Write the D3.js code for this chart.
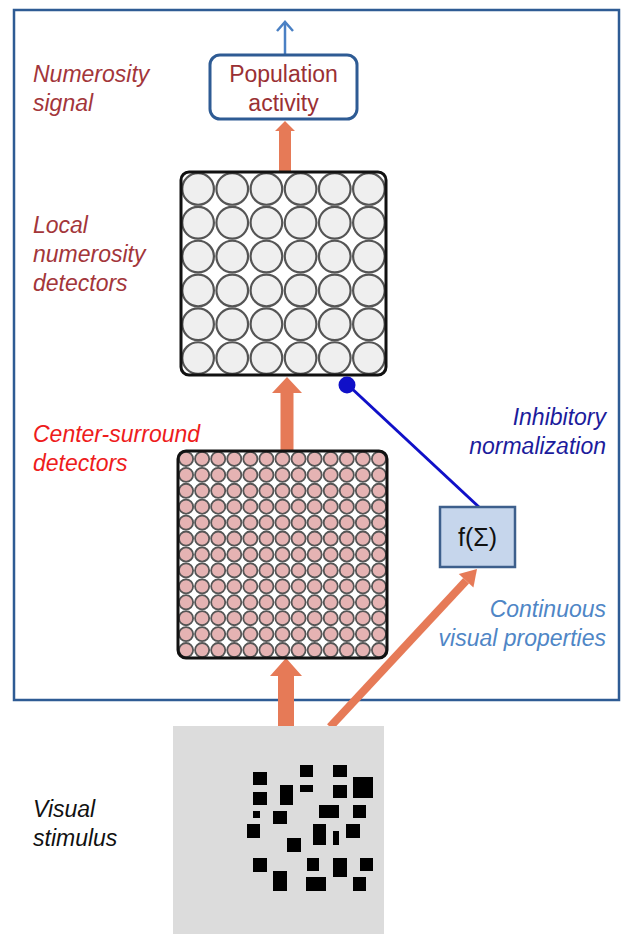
<html>
<style>
  body { margin: 0; background: #fff; }
  svg { display: block; }
  text { font-family: "Liberation Sans", Arial, sans-serif; }
  .lbl { font-style: italic; font-size: 23px; }
</style>
<script src="https://cdn.jsdelivr.net/npm/d3@7"></script>
<body>
<div id="container"></div>
<script>

// ---- data ----
const leftLabels = [
  { lines: ["Numerosity", "signal"], color: "#a3363a", y: 82 },
  { lines: ["Local", "numerosity", "detectors"], color: "#a3363a", y: 233 },
  { lines: ["Center-surround", "detectors"], color: "#ee1c1c", y: 442 },
  { lines: ["Visual", "stimulus"], color: "#111", y: 817 }
];
const rightLabels = [
  { lines: ["Inhibitory", "normalization"], color: "#1c1c9c", y: 425 },
  { lines: ["Continuous", "visual properties"], color: "#4f86c6", y: 617 }
];
const popLines = ["Population", "activity"];
const fLabel = "f(\u03A3)";
const localGrid = d3.range(6);      // 6 x 6 detectors
const csGrid = d3.range(13);        // 13 x 13 detectors
// stimulus squares [x0, y0, x1, y1] in stimulus units (0..211 x 0..208)
const squares = [
  [80,46,94,59],[127,39,140,51],[160,39,174,51],[180,51,200,72],
  [107,59,120,79],[127,59,140,66],[160,59,174,72],[80,66,94,79],
  [146,79,166,92],[180,79,193,92],[80,85,87,92],[100,85,114,98],
  [74,98,87,112],[140,98,153,119],[160,105,166,119],[173,98,187,112],
  [114,112,128,126],[80,132,94,146],[134,132,146,145],[160,132,174,151],
  [187,132,200,145],[100,145,114,165],[133,151,153,165],[180,151,193,165]
];

const W = 623, H = 934;
const orange = "#e67a57";
const svg = d3.select("#container").append("svg").attr("width", W).attr("height", H);

// outer frame
svg.append("rect").attr("x", 14).attr("y", 10).attr("width", 605).attr("height", 690)
  .attr("fill", "none").attr("stroke", "#2e5b94").attr("stroke-width", 2.5);

// arrows (drawn first so boxes sit on top)
function blockArrow(x, y0, y1, shaft, head, headLen) {
  // vertical arrow pointing up from y0 (bottom) to y1 (tip)
  const p = d3.path();
  p.moveTo(x - shaft / 2, y0);
  p.lineTo(x - shaft / 2, y1 + headLen);
  p.lineTo(x - head / 2, y1 + headLen);
  p.lineTo(x, y1);
  p.lineTo(x + head / 2, y1 + headLen);
  p.lineTo(x + shaft / 2, y1 + headLen);
  p.lineTo(x + shaft / 2, y0);
  p.closePath();
  svg.append("path").attr("d", p.toString()).attr("fill", orange);
}
blockArrow(286, 726, 658, 16, 32, 18);
blockArrow(287, 450, 377, 13, 30, 16);
blockArrow(285, 171, 121, 12, 20, 10);

// diagonal arrow to f(Σ)
{
  const x0 = 330, y0 = 727, x1 = 477, y1 = 569;
  const a = Math.atan2(y1 - y0, x1 - x0), hl = 16, hw = 10;
  const bx = x1 - hl * Math.cos(a), by = y1 - hl * Math.sin(a);
  svg.append("line").attr("x1", x0).attr("y1", y0).attr("x2", bx).attr("y2", by)
    .attr("stroke", orange).attr("stroke-width", 8);
  svg.append("path").attr("fill", orange).attr("d",
    `M${x1},${y1}L${bx + hw * Math.sin(a)},${by - hw * Math.cos(a)}L${bx - hw * Math.sin(a)},${by + hw * Math.cos(a)}Z`);
}

// blue output arrow
svg.append("line").attr("x1", 285).attr("y1", 54).attr("x2", 285).attr("y2", 23)
  .attr("stroke", "#4a80c4").attr("stroke-width", 2.5);
svg.append("path").attr("d", "M277,31L285,22L293,31").attr("fill", "none")
  .attr("stroke", "#4a80c4").attr("stroke-width", 2.5);

// population box
svg.append("rect").attr("x", 210).attr("y", 55).attr("width", 147).attr("height", 64)
  .attr("rx", 10).attr("fill", "#fff").attr("stroke", "#2e5b94").attr("stroke-width", 3);
svg.append("text").attr("x", 283.5).attr("text-anchor", "middle")
  .attr("font-size", 23).attr("fill", "#9a3034")
  .selectAll("tspan").data(popLines).join("tspan")
  .attr("x", 283.5).attr("y", (d, i) => 82 + i * 29).text(d => d);

// detector grids
function grid(x0, y0, w, h, idx, fill, sw) {
  const gx = d3.scaleBand().domain(idx).range([x0, x0 + w]);
  const gy = d3.scaleBand().domain(idx).range([y0, y0 + h]);
  const r = Math.min(gx.bandwidth(), gy.bandwidth()) / 2 - sw / 2;
  const clipId = "clip" + x0;
  svg.append("clipPath").attr("id", clipId).append("rect")
    .attr("x", x0).attr("y", y0).attr("width", w).attr("height", h).attr("rx", 8);
  svg.append("rect").attr("x", x0).attr("y", y0).attr("width", w).attr("height", h)
    .attr("rx", 8).attr("fill", "#fff");
  const cells = idx.flatMap(i => idx.map(j => [i, j]));
  svg.append("g").attr("clip-path", `url(#${clipId})`)
    .selectAll("circle").data(cells).join("circle")
    .attr("cx", d => gx(d[0]) + gx.bandwidth() / 2)
    .attr("cy", d => gy(d[1]) + gy.bandwidth() / 2)
    .attr("r", r).attr("fill", fill).attr("stroke", "#555").attr("stroke-width", sw);
  svg.append("rect").attr("x", x0).attr("y", y0).attr("width", w).attr("height", h)
    .attr("rx", 8).attr("fill", "none").attr("stroke", "#111").attr("stroke-width", 3);
}
grid(181, 172, 205, 203, localGrid, "#efefef", 2.2);
grid(178, 451, 209, 207, csGrid, "#e5b3b3", 1.8);

// inhibitory connection
svg.append("line").attr("x1", 480).attr("y1", 508).attr("x2", 348).attr("y2", 385)
  .attr("stroke", "#1010c8").attr("stroke-width", 3);
svg.append("circle").attr("cx", 347).attr("cy", 385).attr("r", 8.5).attr("fill", "#1010c8");

// f(Σ) box
svg.append("rect").attr("x", 440).attr("y", 507).attr("width", 75).attr("height", 60)
  .attr("fill", "#c6d6ec").attr("stroke", "#3d5f8c").attr("stroke-width", 2.5);
svg.append("text").attr("x", 477.5).attr("y", 546).attr("text-anchor", "middle")
  .attr("font-size", 25).attr("fill", "#111").text(fLabel);

// stimulus
const sx = d3.scaleLinear().domain([0, 211]).range([173, 384]);
const sy = d3.scaleLinear().domain([0, 208]).range([726, 934]);
svg.append("rect").attr("x", sx(0)).attr("y", sy(0))
  .attr("width", sx(211) - sx(0)).attr("height", sy(208) - sy(0)).attr("fill", "#dcdcdc");
svg.append("g").selectAll("rect").data(squares).join("rect")
  .attr("x", d => sx(d[0])).attr("y", d => sy(d[1]))
  .attr("width", d => sx(d[2]) - sx(d[0])).attr("height", d => sy(d[3]) - sy(d[1]))
  .attr("fill", "#000");

// labels
function labels(data, x, anchor) {
  data.forEach(l => {
    svg.append("text").attr("class", "lbl").attr("fill", l.color).attr("text-anchor", anchor)
      .selectAll("tspan").data(l.lines).join("tspan")
      .attr("x", x).attr("y", (d, i) => l.y + i * 29).text(d => d);
  });
}
labels(leftLabels, 33, "start");
labels(rightLabels, 606, "end");

</script>
</body>
</html>
